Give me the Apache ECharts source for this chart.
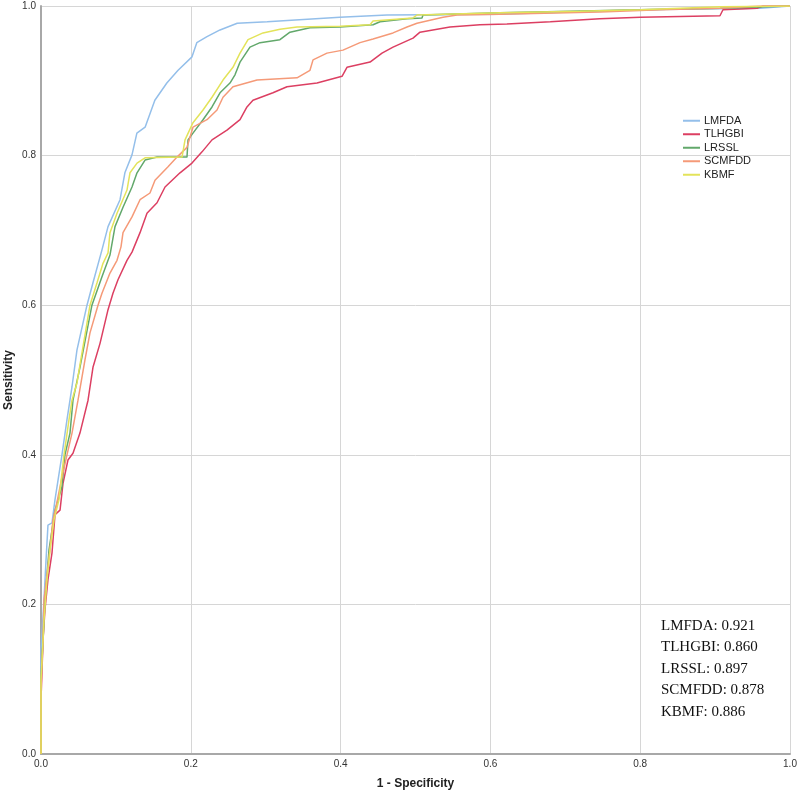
<!DOCTYPE html>
<html>
<head>
<meta charset="utf-8">
<script src="https://cdn.jsdelivr.net/npm/echarts@6/dist/echarts.min.js"></script>
<style>html,body{margin:0;padding:0;background:#fff}#c{width:798px;height:794px}</style>
</head>
<body>
<div id="c"></div>
<script>
const seriesNames = ['LMFDA', 'TLHGBI', 'LRSSL', 'SCMFDD', 'KBMF'];
const aucValues = ['0.921', '0.860', '0.897', '0.878', '0.886'];
const xTickLabels = ['0.0', '0.2', '0.4', '0.6', '0.8', '1.0'];
const yTickLabels = ['0.0', '0.2', '0.4', '0.6', '0.8', '1.0'];

const lmfdaPts = [[0,0],[0,0.139],[0.004,0.206],[0.0067,0.259],[0.0093,0.306],[0.0147,0.309],[0.0187,0.340],[0.028,0.400],[0.0347,0.447],[0.0387,0.473],[0.0414,0.491],[0.048,0.540],[0.0614,0.600],[0.0694,0.630],[0.0814,0.674],[0.0895,0.705],[0.1055,0.741],[0.112,0.777],[0.1215,0.801],[0.128,0.830],[0.139,0.838],[0.152,0.874],[0.168,0.897],[0.183,0.914],[0.2016,0.932],[0.208,0.951],[0.2216,0.959],[0.239,0.968],[0.262,0.977],[0.302,0.979],[0.399,0.985],[0.462,0.988],[0.613,0.989],[0.80,0.995],[0.96,0.997],[1,1]];

const tlhgbiPts = [[0,0],[0,0.072],[0.0027,0.152],[0.0053,0.193],[0.0093,0.233],[0.0147,0.269],[0.0187,0.320],[0.0254,0.326],[0.0294,0.362],[0.036,0.393],[0.0427,0.402],[0.052,0.429],[0.0628,0.473],[0.0694,0.517],[0.0788,0.549],[0.0895,0.594],[0.0961,0.616],[0.1028,0.634],[0.1148,0.660],[0.1215,0.671],[0.1322,0.697],[0.1415,0.723],[0.1549,0.737],[0.1656,0.758],[0.1856,0.777],[0.2016,0.790],[0.215,0.805],[0.2283,0.821],[0.2483,0.834],[0.2657,0.848],[0.275,0.865],[0.283,0.874],[0.3097,0.884],[0.3284,0.892],[0.3685,0.897],[0.4019,0.906],[0.4085,0.918],[0.4393,0.925],[0.4553,0.937],[0.47,0.945],[0.4967,0.957],[0.506,0.965],[0.546,0.972],[0.586,0.975],[0.622,0.976],[0.68,0.979],[0.746,0.983],[0.80,0.985],[0.9065,0.987],[0.9105,0.995],[0.956,0.997],[0.964,1.0],[1,1]];

const lrsslPts = [[0,0],[0,0.099],[0.0027,0.152],[0.0053,0.206],[0.0107,0.273],[0.0187,0.326],[0.028,0.357],[0.032,0.400],[0.0387,0.429],[0.0427,0.473],[0.052,0.517],[0.068,0.600],[0.0814,0.638],[0.0921,0.667],[0.0988,0.705],[0.1095,0.731],[0.1215,0.758],[0.1282,0.777],[0.1389,0.794],[0.1549,0.798],[0.1949,0.798],[0.1963,0.821],[0.2029,0.830],[0.2163,0.848],[0.2283,0.865],[0.239,0.884],[0.2523,0.897],[0.259,0.908],[0.2657,0.925],[0.279,0.945],[0.2924,0.951],[0.319,0.955],[0.3324,0.965],[0.3591,0.971],[0.3992,0.972],[0.4433,0.975],[0.4526,0.979],[0.4887,0.983],[0.5087,0.984],[0.51,0.988],[0.6128,0.991],[0.80,0.995],[0.9065,0.997],[1,1]];

const scmfddPts = [[0,0],[0,0.086],[0.0027,0.152],[0.004,0.206],[0.012,0.273],[0.016,0.313],[0.02,0.330],[0.028,0.370],[0.0347,0.400],[0.0414,0.429],[0.0494,0.473],[0.0587,0.527],[0.0654,0.563],[0.0761,0.600],[0.0814,0.616],[0.0921,0.643],[0.1015,0.660],[0.1068,0.678],[0.1095,0.697],[0.1215,0.718],[0.1322,0.741],[0.1455,0.750],[0.1522,0.767],[0.1696,0.785],[0.1816,0.798],[0.1949,0.811],[0.2029,0.838],[0.2216,0.848],[0.235,0.861],[0.243,0.878],[0.2563,0.892],[0.2884,0.901],[0.3418,0.904],[0.3591,0.914],[0.3632,0.928],[0.3818,0.937],[0.4032,0.941],[0.4259,0.951],[0.4433,0.956],[0.47,0.964],[0.4887,0.972],[0.502,0.977],[0.5194,0.981],[0.5367,0.985],[0.5554,0.988],[0.6128,0.989],[0.7463,0.992],[0.8264,0.995],[0.9065,0.997],[0.96,1.0],[1,1]];

const kbmfPts = [[0,0],[0,0.099],[0.004,0.179],[0.008,0.233],[0.012,0.273],[0.0174,0.313],[0.024,0.340],[0.0307,0.400],[0.0374,0.447],[0.0414,0.473],[0.048,0.496],[0.0654,0.600],[0.0748,0.630],[0.0828,0.656],[0.0895,0.670],[0.0921,0.697],[0.1015,0.723],[0.1148,0.754],[0.1188,0.777],[0.1282,0.790],[0.1389,0.797],[0.1883,0.798],[0.1923,0.821],[0.2029,0.844],[0.2163,0.861],[0.2283,0.878],[0.243,0.901],[0.2563,0.918],[0.2657,0.937],[0.2764,0.955],[0.2964,0.964],[0.3191,0.969],[0.3418,0.972],[0.3992,0.973],[0.4393,0.975],[0.4433,0.980],[0.4967,0.984],[0.502,0.988],[0.6128,0.991],[0.7196,0.993],[0.80,0.995],[0.9065,0.999],[1,1]];

const seriesData = [lmfdaPts, tlhgbiPts, lrsslPts, scmfddPts, kbmfPts];
const colors = ['#94bfea', '#dc3f62', '#62a86b', '#f59a78', '#e3e35a'];

const chart = echarts.init(document.getElementById('c'), null, {renderer: 'canvas'});
const annotation = seriesNames.map((n, i) => n + ': ' + aucValues[i]).join('\n');

chart.setOption({
  animation: false,
  backgroundColor: '#fff',
  color: colors,
  grid: {left: 41, top: 6, right: 8, bottom: 40, containLabel: false, outerBoundsMode: 'none'},
  legend: {
    orient: 'vertical', left: 678, top: 109,
    itemWidth: 17, itemHeight: 2, itemGap: 0, icon: 'rect',
    data: seriesNames,
    textStyle: {fontFamily: 'Liberation Sans, Arial, sans-serif', fontSize: 11, color: '#222', lineHeight: 13.5, padding: [0,0,0,-1]}
  },
  xAxis: {
    type: 'value', min: 0, max: 1, interval: 0.2,
    name: '1 - Specificity', nameLocation: 'middle', nameGap: 24, nameMoveOverlap: false,
    nameTextStyle: {fontFamily: 'Liberation Sans, Arial, sans-serif', fontSize: 12, fontWeight: 'bold', color: '#222'},
    axisLine: {show: true, lineStyle: {color: '#a8a8a8', width: 2}},
    axisTick: {show: false},
    axisLabel: {margin: 5, fontFamily: 'Liberation Sans, Arial, sans-serif', fontSize: 10, color: '#333',
      formatter: v => xTickLabels[Math.round(v / 0.2)]},
    splitLine: {show: true, lineStyle: {color: '#d6d6d6', width: 1}}
  },
  yAxis: {
    type: 'value', min: 0, max: 1, interval: 0.2,
    name: 'Sensitivity', nameLocation: 'middle', nameGap: 26, nameMoveOverlap: false,
    nameTextStyle: {fontFamily: 'Liberation Sans, Arial, sans-serif', fontSize: 12, fontWeight: 'bold', color: '#222'},
    axisLine: {show: true, lineStyle: {color: '#a8a8a8', width: 2}},
    axisTick: {show: false},
    axisLabel: {margin: 5, fontFamily: 'Liberation Sans, Arial, sans-serif', fontSize: 10, color: '#333',
      formatter: v => yTickLabels[Math.round(v / 0.2)]},
    splitLine: {show: true, lineStyle: {color: '#d6d6d6', width: 1}}
  },
  graphic: [{
    type: 'text', left: 661, top: 615,
    style: {text: annotation, fontFamily: 'Liberation Serif, Times New Roman, serif', fontSize: 15, lineHeight: 21.5, fill: '#111'}
  }],
  series: seriesNames.map((n, i) => ({
    name: n, type: 'line', data: seriesData[i], showSymbol: false, symbol: 'none',
    lineStyle: {width: 1.5, color: colors[i]}, itemStyle: {color: colors[i]}, z: 2 + i
  }))
});
</script>
</body>
</html>
